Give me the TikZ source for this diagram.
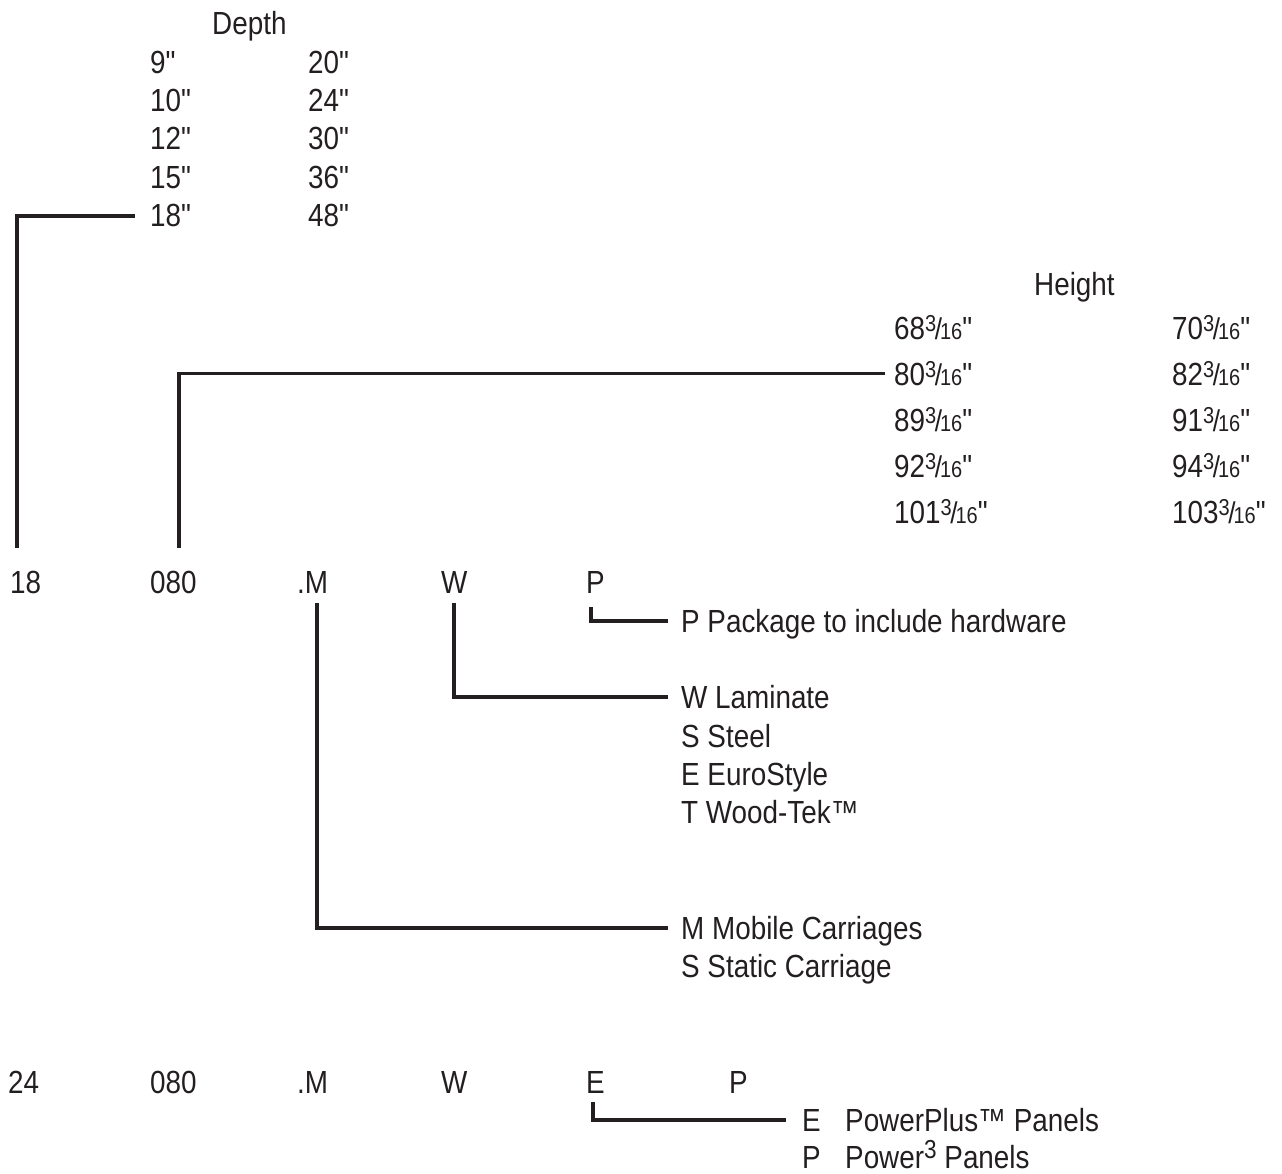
\documentclass[tikz,border=0pt]{standalone}
\usepackage{fontspec}
\setmainfont{Liberation Sans}[FakeStretch=0.87, Ligatures=TeXOff]
\definecolor{ink}{HTML}{231F20}
\newcommand{\inch}{"}
\newcommand{\thsx}{\raisebox{7.5pt}{\fontsize{23}{23}\selectfont 3}\kern-1.5pt{\fontsize{30}{30}\selectfont/}\kern-2pt{\fontsize{23}{23}\selectfont 16}\inch}
\newcommand{\cubesup}{\raisebox{10pt}{\fontsize{26}{26}\selectfont 3}}
\tikzset{
  lbl/.style={anchor=base west, inner sep=0pt, text=ink, font=\fontsize{32}{38}\selectfont},
  conn/.style={line width=3.5pt, draw=ink, line cap=butt, line join=miter}
}
\begin{document}
\begin{tikzpicture}[x=1pt,y=-1pt]
\useasboundingbox (0,0) rectangle (1282,1174);
% Depth
\node[lbl] (dh) at (212,35) {Depth};
\node[lbl] (d9) at (150,74) {9\inch};
\node[lbl] (d10) at (150,112) {10\inch};
\node[lbl] (d12) at (150,150) {12\inch};
\node[lbl] (d15) at (150,189) {15\inch};
\node[lbl] (d18) at (150,227) {18\inch};
\node[lbl] (d20) at (308,74) {20\inch};
\node[lbl] (d24) at (308,112) {24\inch};
\node[lbl] (d30) at (308,150) {30\inch};
\node[lbl] (d36) at (308,189) {36\inch};
\node[lbl] (d48) at (308,227) {48\inch};
% Height
\node[lbl] (hh) at (1034,296) {Height};
\node[lbl] (h68) at (894,339) {68\thsx};
\node[lbl] (h80) at (894,385) {80\thsx};
\node[lbl] (h89) at (894,431) {89\thsx};
\node[lbl] (h92) at (894,477) {92\thsx};
\node[lbl] (h101) at (894,523) {101\thsx};
\node[lbl] (h70) at (1172,339) {70\thsx};
\node[lbl] (h82) at (1172,385) {82\thsx};
\node[lbl] (h91) at (1172,431) {91\thsx};
\node[lbl] (h94) at (1172,477) {94\thsx};
\node[lbl] (h103) at (1172,523) {103\thsx};
% Main row 1
\node[lbl] (m18) at (10,593) {18};
\node[lbl] (m080) at (150,593) {080};
\node[lbl] (mM) at (297,593) {.M};
\node[lbl] (mW) at (441,593) {W};
\node[lbl] (mP) at (586,593) {P};
% Descriptions
\node[lbl] (pk) at (681,632) {P Package to include hardware};
\node[lbl] (w1) at (681,708) {W Laminate};
\node[lbl] (w2) at (681,747) {S Steel};
\node[lbl] (w3) at (681,785) {E EuroStyle};
\node[lbl] (w4) at (681,823) {T Wood-Tek™};
\node[lbl] (c1) at (681,939) {M Mobile Carriages};
\node[lbl] (c2) at (681,977) {S Static Carriage};
% Main row 2
\node[lbl] (n24) at (8,1093) {24};
\node[lbl] (n080) at (150,1093) {080};
\node[lbl] (nM) at (297,1093) {.M};
\node[lbl] (nW) at (441,1093) {W};
\node[lbl] (nE) at (586,1093) {E};
\node[lbl] (nP) at (729,1093) {P};
\node[lbl] (e1) at (802,1131) {\makebox[43pt][l]{E}PowerPlus™ Panels};
\node[lbl] (e2) at (802,1168) {\makebox[43pt][l]{P}Power\cubesup{} Panels};
% Connectors
\draw[conn] ([xshift=-15pt]d18.west) -| ([xshift=7pt,yshift=22pt]m18.north west);
\draw[conn] ([xshift=-9pt]h80.west) -| ([xshift=29pt,yshift=22pt]m080.north west);
\draw[conn] ([xshift=20pt,yshift=-10pt]mM.south west) |- ([xshift=-13pt,yshift=11pt]c1.base west);
\draw[conn] ([xshift=13pt,yshift=-10pt]mW.south west) |- ([xshift=-13pt,yshift=11pt]w1.base west);
\draw[conn] ([xshift=5pt,yshift=-14pt]mP.south west) |- ([xshift=-13pt,yshift=11pt]pk.base west);
\draw[conn] ([xshift=7pt,yshift=-9pt]nE.south west) |- ([xshift=-16pt,yshift=11pt]e1.base west);
\end{tikzpicture}
\end{document}
